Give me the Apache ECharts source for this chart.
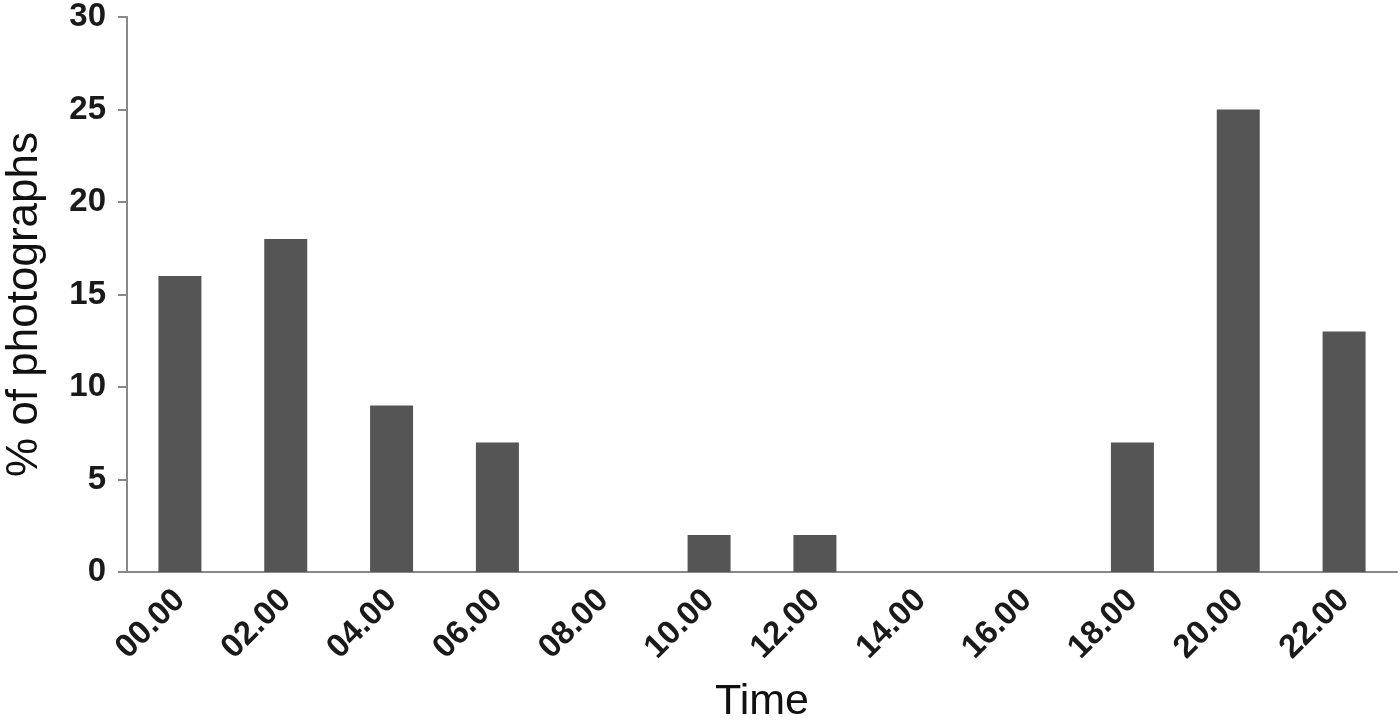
<!DOCTYPE html>
<html>
<head>
<meta charset="utf-8">
<script src="https://cdn.jsdelivr.net/npm/echarts@6/dist/echarts.min.js"></script>
<style>html,body{margin:0;padding:0;background:#fff}#c{width:1400px;height:724px}</style>
</head>
<body>
<div id="c"></div>
<script>
const categories = ['00.00','02.00','04.00','06.00','08.00','10.00','12.00','14.00','16.00','18.00','20.00','22.00'];
const values = [16, 18, 9, 7, 0, 2, 2, 0, 0, 7, 25, 13];
const yTicks = [0, 5, 10, 15, 20, 25, 30];

const chart = echarts.init(document.getElementById('c'));
chart.setOption({
  backgroundColor: '#fff',
  animation: false,
  grid: {left: 127, right: 3, top: 17, bottom: 152, containLabel: false, outerBoundsMode: 'none'},
  xAxis: {
    type: 'category',
    data: categories,
    name: 'Time',
    nameLocation: 'middle',
    nameGap: 109,
    nameTextStyle: {fontFamily: 'Liberation Sans', fontSize: 43, color: '#111'},
    axisLine: {lineStyle: {color: '#888', width: 2}},
    axisTick: {show: false},
    axisLabel: {rotate: 45, margin: 23, fontFamily: 'Liberation Sans', fontWeight: 'bold', fontSize: 33, color: '#1a1a1a', interval: 0}
  },
  yAxis: {
    type: 'value',
    min: yTicks[0],
    max: yTicks[yTicks.length - 1],
    interval: 5,
    name: '% of photographs',
    nameLocation: 'middle',
    nameGap: 80,
    nameTextStyle: {fontFamily: 'Liberation Sans', fontSize: 44, color: '#111', padding: [0, 20, 0, 0]},
    axisLine: {show: true, lineStyle: {color: '#888', width: 2}},
    axisTick: {show: true, length: 9, lineStyle: {color: '#888', width: 2}},
    axisLabel: {margin: 21, fontFamily: 'Liberation Sans', fontWeight: 'bold', fontSize: 33, color: '#1a1a1a'},
    splitLine: {show: false}
  },
  series: [{
    type: 'bar',
    data: values,
    barWidth: 43,
    itemStyle: {color: '#555555'}
  }]
});
</script>
</body>
</html>
